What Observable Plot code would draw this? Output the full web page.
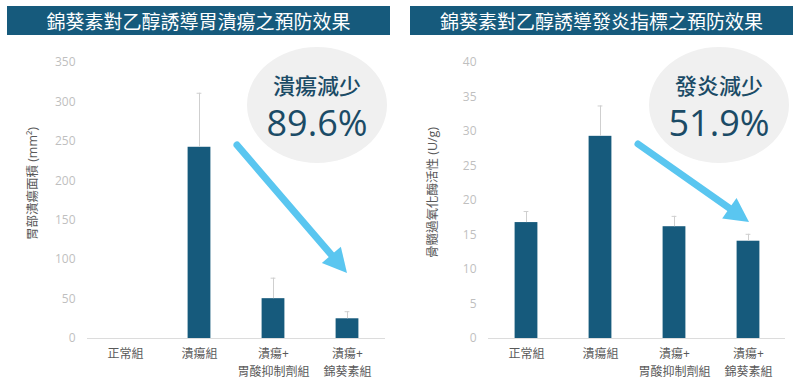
<!DOCTYPE html>
<html><head><meta charset="utf-8">
<script src="https://cdn.jsdelivr.net/npm/d3@7"></script>
<script src="https://cdn.jsdelivr.net/npm/@observablehq/plot@0.6"></script>
<style>
body{margin:0;background:#fff;}
#wrap{position:relative;width:800px;height:392px;overflow:hidden;font-family:"Open Sans","Noto Sans CJK TC",sans-serif;}
.banner{position:absolute;top:6px;height:29px;background:#165a7c;color:#fff;font-size:19px;line-height:29px;text-align:center;font-family:"Noto Sans CJK TC",sans-serif;}
.panel{position:absolute;top:0;width:400px;height:392px;}
#overlay{position:absolute;left:0;top:0;}
</style></head><body><div id="wrap"></div>
<script>
// ---- data ----
const categories = ["正常組", "潰瘍組", "潰瘍+胃酸抑制劑組", "潰瘍+錦葵素組"];
const tickLabels = ["正常組", "潰瘍組", "潰瘍+\n胃酸抑制劑組", "潰瘍+\n錦葵素組"];
const ulcerArea = [0, 242.5, 50.5, 25];
const ulcerAreaErr = [0, 68.5, 26, 9];
const mpoActivity = [16.8, 29.3, 16.2, 14.1];
const mpoActivityErr = [1.6, 4.4, 1.5, 1.0];
const titles = ["錦葵素對乙醇誘導胃潰瘍之預防效果", "錦葵素對乙醇誘導發炎指標之預防效果"];
const yLabels = ["胃部潰瘍面積 (mm²)", "骨髓過氧化酶活性 (U/g)"];
const ulcerTicks = [0, 50, 100, 150, 200, 250, 300, 350];
const mpoTicks = [0, 5, 10, 15, 20, 25, 30, 35, 40];
const badgeLabels = ["潰瘍減少", "發炎減少"];
const badgeValues = ["89.6%", "51.9%"];

const BAR = "#165a7c";
const wrap = document.getElementById("wrap");
const fmt = new Map(categories.map((c, i) => [c, tickLabels[i]]));

function chart(values, errs, ticks, yLabel, ml, labelDy) {
  const data = categories.map((c, i) => ({cat: c, v: values[i], e: errs[i], top: values[i] + errs[i]}));
  const withErr = data.filter(d => d.e > 0);
  return Plot.plot({
    width: 400, height: 392,
    marginTop: 62, marginBottom: 54, marginLeft: ml, marginRight: 15,
    style: {fontFamily: '"Open Sans","Noto Sans CJK TC",sans-serif', background: "transparent", overflow: "visible"},
    x: {domain: categories, padding: 0, label: null},
    y: {domain: [0, d3.max(ticks)], label: null},
    marks: [
      Plot.ruleY([0], {stroke: "#dcdcdc"}),
      Plot.barY(data.filter(d => d.v > 0), {x: "cat", y: "v", fill: BAR, insetLeft: 25.6, insetRight: 25.6}),
      Plot.ruleX(withErr, {x: "cat", y1: "v", y2: "top", stroke: "#cfcfcf", strokeWidth: 1}),
      Plot.tickY(withErr, {x: "cat", y: "top", stroke: "#cfcfcf", insetLeft: 34.6, insetRight: 34.6}),
      Plot.axisY({ticks, tickSize: 0, tickPadding: 12, fill: "#bfbfbf", fontSize: 12, label: null}),
      Plot.axisX({tickSize: 0, tickPadding: 7, tickFormat: c => fmt.get(c), fill: "#595959", fontSize: 12, lineHeight: 1.5, label: null}),
      Plot.text([yLabel], {frameAnchor: "left", textAnchor: "middle", dx: -(ml - 32), dy: labelDy, rotate: -90, fill: "#595959", fontSize: 12.5})
    ]
  });
}

const panels = [
  {left: 0, plot: chart(ulcerArea, ulcerAreaErr, ulcerTicks, yLabels[0], 87, -17)},
  {left: 400, plot: chart(mpoActivity, mpoActivityErr, mpoTicks, yLabels[1], 88, -8)}
];
panels.forEach((p, i) => {
  const div = document.createElement("div");
  div.className = "panel";
  div.style.left = p.left + "px";
  div.appendChild(p.plot);
  wrap.appendChild(div);
});

[[7, titles[0]], [410, titles[1]]].forEach(([x, t]) => {
  const b = document.createElement("div");
  b.className = "banner";
  b.style.left = x + "px";
  b.style.width = "383px";
  b.textContent = t;
  wrap.appendChild(b);
});

// ---- annotations overlay ----
const svg = d3.select(wrap).append("svg").attr("id", "overlay").attr("width", 800).attr("height", 392);
const badges = [{cx: 317, cy: 105}, {cx: 719, cy: 105}];
badges.forEach((b, i) => {
  svg.append("ellipse").attr("cx", b.cx).attr("cy", b.cy).attr("rx", 70).attr("ry", 58).attr("fill", "#f0f0f0");
  svg.append("text").attr("x", b.cx).attr("y", 84).attr("text-anchor", "middle").attr("dominant-baseline", "central")
    .attr("fill", "#1b4b66").attr("font-size", 22).attr("font-weight", 500).attr("font-family", '"Noto Sans CJK TC",sans-serif').text(badgeLabels[i]);
  svg.append("text").attr("x", b.cx).attr("y", 122).attr("text-anchor", "middle").attr("dominant-baseline", "central")
    .attr("fill", "#1b4b66").attr("font-size", 36).attr("font-family", '"Open Sans",sans-serif').text(badgeValues[i]);
});
function arrow(x1, y1, x2, y2) {
  const dx = x2 - x1, dy = y2 - y1, L = Math.hypot(dx, dy), ux = dx / L, uy = dy / L;
  const hl = 24, hw = 12.5;
  const bx = x2 - hl * ux, by = y2 - hl * uy, nx = -uy, ny = ux;
  svg.append("line").attr("x1", x1).attr("y1", y1).attr("x2", bx + 3 * ux).attr("y2", by + 3 * uy)
    .attr("stroke", "#5ac6f0").attr("stroke-width", 7).attr("stroke-linecap", "round");
  svg.append("polygon").attr("points", `${x2},${y2} ${bx + hw * nx},${by + hw * ny} ${bx - hw * nx},${by - hw * ny}`)
    .attr("fill", "#5ac6f0");
}
arrow(237, 145, 347, 273);
arrow(638, 144, 749, 222);
</script></body></html>
